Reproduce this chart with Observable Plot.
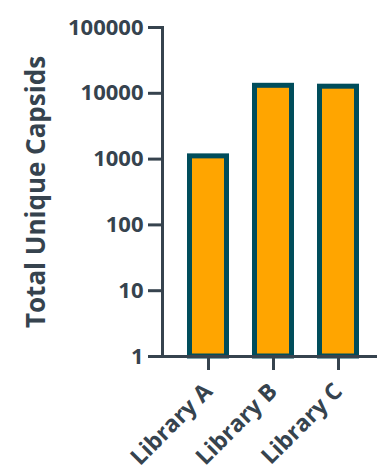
<!DOCTYPE html>
<html>
<head>
<meta charset="utf-8">
<script src="https://cdn.jsdelivr.net/npm/d3@7"></script>
<script src="https://cdn.jsdelivr.net/npm/@observablehq/plot@0.6"></script>
<style>
  html, body { margin: 0; padding: 0; background: #fff; }
  #chart svg { display: block; }
</style>
</head>
<body>
<div id="chart"></div>
<script>
// Total unique capsids per library (log scale)
const libraries = ["Library A", "Library B", "Library C"];
const capsids = [1100, 13000, 12600];
const yTicks = [1, 10, 100, 1000, 10000, 100000];

const ink = "#36434e";
const barFill = "#ffa500";
const barStroke = "#004d5b";
const font = "'Open Sans', Lato, sans-serif";

const data = libraries.map((library, i) => ({library, value: capsids[i]}));

const chart = Plot.plot({
  width: 377,
  height: 465,
  marginLeft: 162,
  marginRight: 0,
  marginTop: 27,
  marginBottom: 109,
  style: {fontFamily: font, fontWeight: "bold", color: ink, background: "#fff"},
  x: {domain: libraries, range: [162, 162 + 65.7 * 3.36], padding: 0.36},
  y: {type: "log", domain: [1, 100000]},
  marks: [
    Plot.barY(data, {
      x: "library", y1: 1, y2: "value",
      fill: barFill, stroke: barStroke, strokeWidth: 5,
      insetLeft: 2.5, insetRight: 2.5
    }),
    Plot.ruleY([1], {stroke: ink, strokeWidth: 3}),
    Plot.frame({anchor: "left", stroke: ink, strokeWidth: 3}),
    Plot.axisY({
      ticks: yTicks, tickFormat: d => String(d),
      tickSize: 14, tickPadding: 5, strokeWidth: 3, stroke: ink, fill: ink,
      fontSize: 22, label: null
    }),
    Plot.axisY({
      ticks: [], tickSize: 0, fill: ink, fontSize: 26, dy: -5,
      label: "Total Unique Capsids", labelAnchor: "center", labelOffset: 136, labelArrow: "none"
    }),
    Plot.axisX({
      tickSize: 14, tickPadding: 17, tickRotate: -45, strokeWidth: 3,
      stroke: ink, fill: ink, fontSize: 23, label: null
    })
  ]
});

document.getElementById("chart").appendChild(chart);
</script>
</body>
</html>
